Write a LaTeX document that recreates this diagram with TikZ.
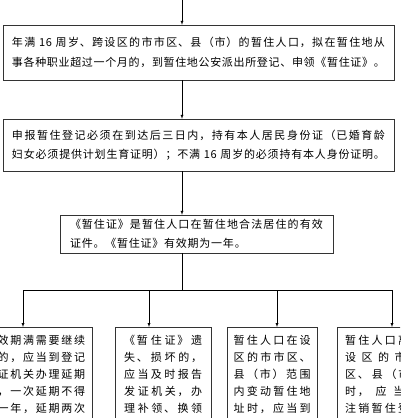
\documentclass[tikz,border=0pt]{standalone}
\usepackage{fontspec}
\usepackage{tikz}
\usetikzlibrary{arrows.meta,positioning}
\newfontfamily\cjk[LetterSpace=7]{Noto Sans CJK SC}
\newfontfamily\cjkwide[LetterSpace=16]{Noto Sans CJK SC}
\XeTeXlinebreaklocale "zh"
\XeTeXlinebreakskip = 0pt plus 4pt minus 0.5pt
\setlength{\parskip}{0pt}
% one justified line, one right / left aligned line
\newcommand{\fl}[1]{{\leftskip=0pt\rightskip=0pt\parfillskip=0pt\noindent#1\par}}
\newcommand{\rl}[1]{\hbox to \hsize{\hfil#1}}
\newcommand{\lline}[1]{\hbox to \hsize{#1\hfil}}
\tikzset{
	thick,
	>=latex,
	flowbox/.style = {
			draw = black!80,
			align = left,
			inner xsep = 9pt,
			font = \cjk\fontsize{11}{19.5}\selectfont,
		},
	itembox/.style = {
			draw = black!80,
			align = left,
			anchor = north west,
			inner xsep = 7pt,
			inner ysep = 8pt,
			text depth = 100pt,
			font = \cjkwide\fontsize{11}{17}\selectfont,
		}
}

\begin{document}
\begin{tikzpicture}[x=1pt,y=-1pt]
	\useasboundingbox (0,0) rectangle (400,418);
	\clip (0,0) rectangle (400,418);

	% main column
	\node[flowbox, text width=373pt, minimum height=55pt] (reg) at (198.5,52.5)
		{\fl{年满 16 周岁、跨设区的市市区、县（市）的暂住人口，拟在暂住地从}
		 \fl{事各种职业超过一个月的，到暂住地公安派出所登记、申领《暂住证》。}};
	\node[flowbox, text width=373pt, minimum height=52pt] (apply) at (198.5,145)
		{\fl{申报暂住登记必须在到达后三日内，持有本人居民身份证（已婚育龄}
		 \fl{妇女必须提供计划生育证明）；不满 16 周岁的必须持有本人身份证明。}};
	\node[flowbox, inner xsep=10pt, text width=253pt, minimum height=38pt] (card) at (196.5,234)
		{\fl{《暂住证》是暂住人口在暂住地合法居住的有效}
		 \lline{证件。《暂住证》有效期为一年。}};

	% bottom row
	\node[itembox, text width=138pt] (extend) at (-60,327)
		{\rl{有效期满需要继续} \rl{暂住的，应当到登记} \rl{证机关办理延期}
		 \rl{续，一次延期不得} \rl{过一年，延期两次}};
	\node[itembox, inner xsep=9pt, text width=78pt] (lost) at (115,327)
		{\fl{《暂住证》遗} \fl{失、损坏的，} \fl{应当及时报告} \fl{发证机关，办} \fl{理补领、换领}};
	\node[itembox, inner xsep=6.5pt, text width=77pt] (move) at (227,327)
		{\fl{暂住人口在设} \fl{区的市市区、} \fl{县（市）范围} \fl{内变动暂住地} \fl{址时，应当到}};
	\node[itembox, inner xsep=8pt, text width=77pt] (leave) at (337,327)
		{\fl{暂住人口离开} \fl{设区的市市} \fl{区、县（市）} \fl{时，应当到} \fl{注销暂住登记}};

	% connectors
	\coordinate (top) at (182,0);
	\coordinate (split) at (182,290);
	\coordinate (sa) at (23,290);
	\coordinate (sb) at (149,290);
	\coordinate (sc) at (277,290);
	\coordinate (sd) at (392,290);
	\draw[->] (top) -- (top |- reg.north);
	\draw[->] (reg.south -| top) -- (apply.north -| top);
	\draw[->] (apply.south -| top) -- (card.north -| top);
	\draw (card.south -| split) -- (split);
	\draw (sa) -- (sd);
	\draw[->] (sa) -- (sa |- extend.north);
	\draw[->] (sb) -- (sb |- lost.north);
	\draw[->] (sc) -- (sc |- move.north);
	\draw[->] (sd) -- (sd |- leave.north);
\end{tikzpicture}
\end{document}
